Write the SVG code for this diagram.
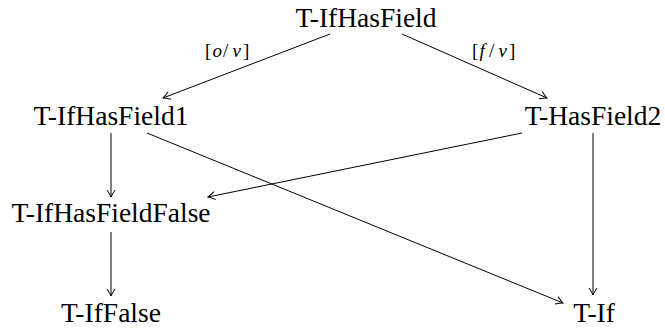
<svg xmlns="http://www.w3.org/2000/svg" width="665" height="329" viewBox="0 0 665 329">
<style>
.n{font-size:27.5px;fill:#000;text-anchor:middle}
.l{font-size:19px;fill:#000}
.e{stroke:#000;stroke-width:1;fill:none}
</style>
<defs>
<marker id="ah" viewBox="-8 -5 10 10" refX="0" refY="0" markerWidth="10" markerHeight="10" markerUnits="userSpaceOnUse" orient="auto">
<path d="M-7,-4 Q-2.5,-1 0,0 Q-2.5,1 -7,4" fill="none" stroke="#000" stroke-width="1"/>
</marker>
</defs>
<g id="edges">
<line class="e" x1="330" y1="34" x2="163" y2="98" marker-end="url(#ah)"/>
<line class="e" x1="402" y1="34" x2="547" y2="98" marker-end="url(#ah)"/>
<line class="e" x1="111" y1="133" x2="111" y2="197" marker-end="url(#ah)"/>
<line class="e" x1="147" y1="133" x2="563" y2="303" marker-end="url(#ah)"/>
<line class="e" x1="522" y1="133" x2="208" y2="197" marker-end="url(#ah)"/>
<line class="e" x1="593" y1="133" x2="593" y2="295" marker-end="url(#ah)"/>
<line class="e" x1="111" y1="232" x2="111" y2="296" marker-end="url(#ah)"/>
<text class="l" y="57" font-family="Liberation Serif"><tspan x="205">[</tspan><tspan x="212.5" font-family="Liberation Serif" font-style="italic">o</tspan><tspan x="223">/</tspan><tspan x="232.5" font-family="Liberation Serif" font-style="italic">v</tspan><tspan x="243">]</tspan></text>
<text class="l" y="57" font-family="Liberation Serif"><tspan x="472">[</tspan><tspan x="479.5" font-family="Liberation Serif" font-style="italic">f</tspan><tspan x="489">/</tspan><tspan x="498.5" font-family="Liberation Serif" font-style="italic">v</tspan><tspan x="509">]</tspan></text>
</g>
<g id="n-ifhasfield"><text class="n" x="366" y="27" font-family="Liberation Serif">T-IfHasField</text></g>
<g id="n-ifhasfield1"><text class="n" x="111" y="124.5" font-family="Liberation Serif">T-IfHasField1</text></g>
<g id="n-hasfield2"><text class="n" x="593" y="124.5" font-family="Liberation Serif">T-HasField2</text></g>
<g id="n-ifhasfieldfalse"><text class="n" x="111" y="222" font-family="Liberation Serif">T-IfHasFieldFalse</text></g>
<g id="n-iffalse"><text class="n" x="111" y="322" font-family="Liberation Serif">T-IfFalse</text></g>
<g id="n-if"><text class="n" x="594" y="322" font-family="Liberation Serif">T-If</text></g>
</svg>
